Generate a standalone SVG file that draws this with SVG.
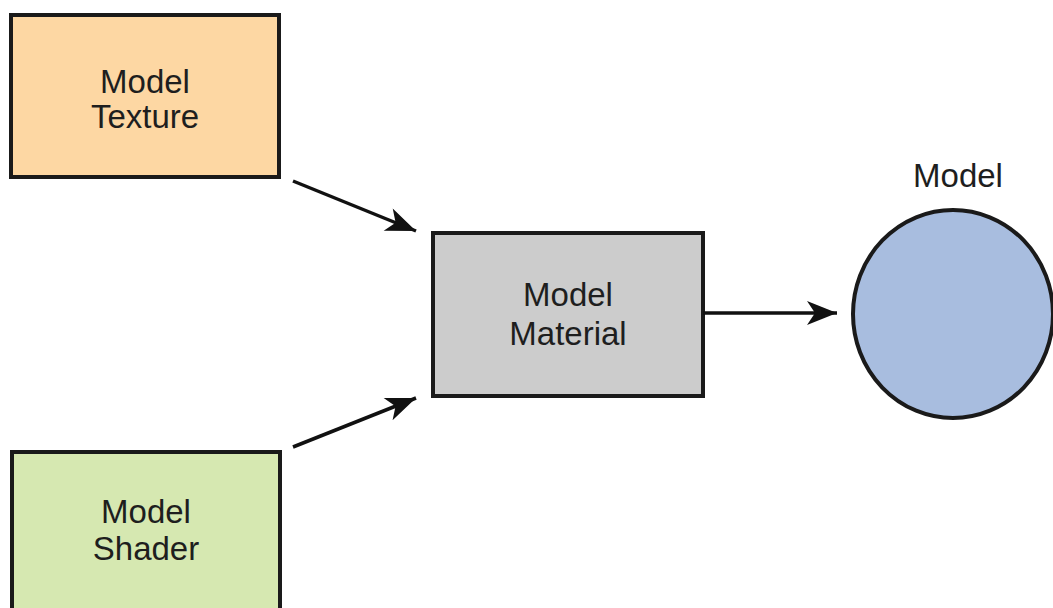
<svg xmlns="http://www.w3.org/2000/svg" width="1053" height="608" viewBox="0 0 1053 608">
<style>
.box{stroke:#1a1a1a;stroke-width:4}
.lbl{font-family:"Liberation Sans",Arial,sans-serif;font-size:33px;fill:#1e1e1e;text-anchor:middle}
.conn{stroke:#111;stroke-width:3.5;fill:none}
</style>
<defs>
<marker id="ah" markerUnits="userSpaceOnUse" markerWidth="40" markerHeight="30" viewBox="-32 -15 34 30" refX="0" refY="0" orient="auto">
<path d="M0,0 L-30,-12 L-22,0 L-30,12 Z" fill="#111"/>
</marker>
</defs>
<rect width="1053" height="608" fill="#ffffff"/>
<g id="texture">
<rect class="box" x="11" y="15" width="268" height="162" fill="#fdd7a3"/>
<text class="lbl" x="145" y="93" font-size="34">Model</text>
<text class="lbl" x="145" y="128" font-size="34">Texture</text>
</g>
<g id="shader">
<rect class="box" x="12" y="452" width="268" height="170" fill="#d6e8b1"/>
<text class="lbl" x="146" y="523" font-size="34">Model</text>
<text class="lbl" x="146" y="560" font-size="34">Shader</text>
</g>
<g id="material">
<rect class="box" x="433" y="233" width="270" height="163" fill="#cccccc"/>
<text class="lbl" x="568" y="306">Model</text>
<text class="lbl" x="568" y="345">Material</text>
</g>
<g id="model">
<ellipse class="box" cx="953" cy="314" rx="100" ry="104" fill="#a8bddf"/>
<text class="lbl" x="958" y="187">Model</text>
</g>
<g id="connectors">
<line class="conn" x1="293" y1="181" x2="416" y2="231" marker-end="url(#ah)"/>
<line class="conn" x1="293" y1="447" x2="416" y2="398" marker-end="url(#ah)"/>
<line class="conn" x1="703" y1="313" x2="837" y2="313" marker-end="url(#ah)"/>
</g>
</svg>
